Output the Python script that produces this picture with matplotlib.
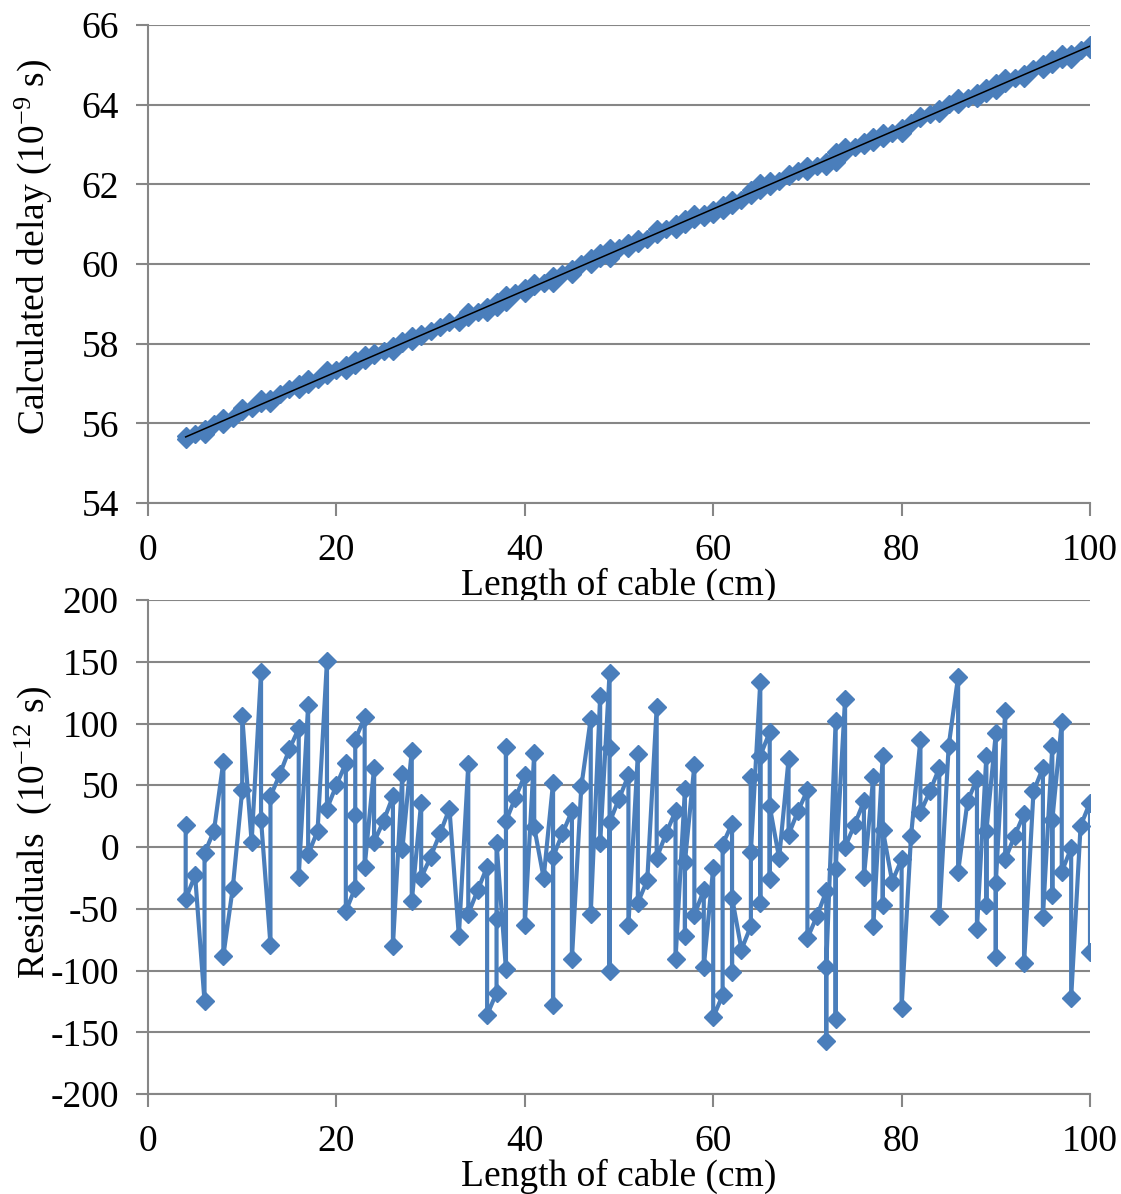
import matplotlib
matplotlib.use("Agg")
import matplotlib.pyplot as plt
import numpy as np

plt.rcParams['font.family'] = ['Liberation Serif', 'DejaVu Serif']
plt.rcParams['mathtext.fontset'] = 'custom'
plt.rcParams['mathtext.rm'] = 'Liberation Serif'
plt.rcParams['mathtext.it'] = 'Liberation Serif:italic'
plt.rcParams['axes.unicode_minus'] = False

# ---------------- data ----------------
# residual measurements (10^-12 s), grouped by cable length (cm)
res_groups = [
    (4, [18, -42]), (5, [-23]), (6, [-125, -5]), (7, [13]), (8, [69, -88]),
    (9, [-33]), (10, [46, 106]), (11, [4]), (12, [142, 22]), (13, [-79, 41]),
    (14, [59]), (15, [79]), (16, [96, -24]), (17, [115, -6]), (18, [13]),
    (19, [151, 31]), (20, [50]), (21, [68, -52]), (22, [-33, 26, 87]),
    (23, [105, -16]), (24, [64, 4]), (25, [21]), (26, [41, -80]), (27, [59, -2]),
    (28, [78, -44]), (29, [36, -25]), (30, [-8]), (31, [11]), (32, [31]),
    (33, [-72]), (34, [67, -54]), (35, [-35]), (36, [-16, -136]),
    (37, [-118, -58, 3]), (38, [-99, 81, 21]), (39, [40]), (40, [58, -63]),
    (41, [76, 16]), (42, [-25]), (43, [52, -128, -8]), (44, [11]),
    (45, [29, -91]), (46, [49]), (47, [104, -54]), (48, [122, 3]),
    (49, [141, -100, 80, 20]), (50, [39]), (51, [58, -63]), (52, [75, -45]),
    (53, [-27]), (54, [113, -9]), (55, [11]), (56, [29, -91]),
    (57, [47, -72, -12]), (58, [66, -55]), (59, [-35, -97]), (60, [-17, -138]),
    (61, [-120, 2]), (62, [19, -101, -41]), (63, [-83]), (64, [-64, 57, -4]),
    (65, [134, -45, 74]), (66, [93, -26, 33]), (67, [-9]), (68, [71, 10]),
    (69, [29]), (70, [46, -74]), (71, [-56]), (72, [-36, -157, -97]),
    (73, [102, -139, -18]), (74, [120, 0]), (75, [18]), (76, [37, -24]),
    (77, [57, -64]), (78, [74, -47, 14]), (79, [-28]), (80, [-10, -130]),
    (81, [9]), (82, [87, 28]), (83, [45]), (84, [64, -56]), (85, [82]),
    (86, [138, -20]), (87, [37]), (88, [55, -66]), (89, [74, -47, 13]),
    (90, [92, -89, -29]), (91, [110, -10]), (92, [9]), (93, [27, -94]),
    (94, [45]), (95, [64, -57]), (96, [82, -39, 22]), (97, [101, -20]),
    (98, [-1, -122]), (99, [17]), (100, [36, -85]),
]
length_cm = [x for x, vals in res_groups for _ in vals]
residual_ps = [v for _, vals in res_groups for v in vals]

# fitted straight line (ns)
fit_intercept = 55.25
fit_slope = 0.1022
fit_x = [4, 100]

x_ticks = [0, 20, 40, 60, 80, 100]
top_yticks = [54, 56, 58, 60, 62, 64, 66]
bot_yticks = [-200, -150, -100, -50, 0, 50, 100, 150, 200]

# measured delays = fit + residual
length_arr = np.array(length_cm, dtype=float)
delay_ns = fit_intercept + fit_slope * length_arr + np.array(residual_ps) / 1000.0
fit_y = [fit_intercept + fit_slope * v for v in fit_x]

# ---------------- plot ----------------
W, H = 1121, 1194
fig = plt.figure(figsize=(W / 100, H / 100), dpi=100)
left = 148 / W
width = 942 / W
ax1 = fig.add_axes([left, 1 - 503 / H, width, 478 / H])
ax2 = fig.add_axes([left, 1 - 1094 / H, width, 494 / H])

blue = '#4A7EBB'
grid_c = '#868686'
fs = 27

for ax, yt in ((ax1, top_yticks), (ax2, bot_yticks)):
    ax.set_xlim(0, 100)
    ax.set_ylim(yt[0], yt[-1])
    ax.set_xticks(x_ticks)
    ax.set_yticks(yt)
    ax.grid(axis='y', color=grid_c, lw=1.5)
    ax.set_axisbelow(True)
    for s in ('top', 'right'):
        ax.spines[s].set_visible(False)
    for s in ('left', 'bottom'):
        ax.spines[s].set_color(grid_c)
        ax.spines[s].set_linewidth(1.5)
    ax.tick_params(axis='both', direction='out', color=grid_c, width=1.5,
                   length=9, labelsize=fs)
    ax.tick_params(axis='x', pad=13)
    ax.tick_params(axis='y', pad=12)
    ax.set_xlabel('Length of cable (cm)', fontsize=fs, labelpad=0)

ax1.plot(length_cm, delay_ns, ls='none', marker='D', ms=9, color=blue,
         zorder=3)
ax1.plot(fit_x, fit_y, color='black', lw=1.1, zorder=4)
ax1.set_ylabel('Calculated delay (10$^{-9}$ s)', fontsize=fs)
ax1.yaxis.set_label_coords(-0.100, 0.535)

ax2.plot(length_cm, residual_ps, color=blue, lw=3.0, marker='D', ms=9,
         zorder=3)
ax2.set_ylabel('Residuals  (10$^{-12}$ s)', fontsize=fs)
ax2.yaxis.set_label_coords(-0.100, 0.53)

fig.savefig('out.png', dpi=100, facecolor='white')
